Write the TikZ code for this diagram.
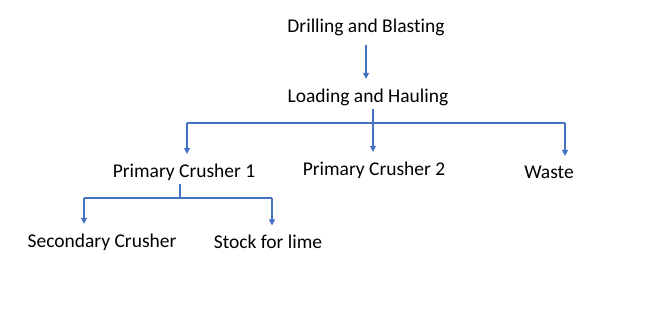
\documentclass[tikz,border=0pt]{standalone}
\usepackage{fontspec}
\setmainfont{Carlito}[Ligatures=NoCommon]
\usetikzlibrary{arrows.meta}
\definecolor{flowblue}{HTML}{4472C4}
\begin{document}
\begin{tikzpicture}[
        x=1pt, y=1pt,
        every node/.style={inner xsep=4pt, inner ysep=9.5pt, font=\fontsize{19.5}{23}\selectfont},
        link/.style={draw=flowblue, line width=1.1pt},
        arr/.style={link, -{Triangle[width=6pt,length=6pt]}},
    ]
    \useasboundingbox (0,0) rectangle (652,314);
    \node (drill) at (366,287) {Drilling and Blasting};
    \node (load)  at (368,217) {Loading and Hauling};
    \node (pc1)   at (184,142) {Primary Crusher 1};
    \node (pc2)   at (374,144) {Primary Crusher 2};
    \node (waste) at (549,142) {Waste};
    \node (sec)   at (102,72)  {Secondary Crusher};
    \node (stock) at (268,72)  {Stock for lime};
    % bus lines
    \coordinate (hubA) at (373,191);
    \coordinate (busL) at (187,191);
    \coordinate (busR) at (565,191);
    \coordinate (hubB) at (180,116);
    \coordinate (busC) at (84,116);
    \coordinate (busD) at (272,116);
    \draw[arr] (drill.south) -- (drill.south |- load.north);
    \draw[link] ([yshift=6pt]load.south -| hubA) -- (hubA);
    \draw[link] (busL) -- (busR);
    \draw[arr] (busL) -- (busL |- pc1.north);
    \draw[arr] (hubA) -- (hubA |- pc2.north);
    \draw[arr] (busR) -- (busR |- waste.north);
    \draw[link] ([yshift=6pt]pc1.south -| hubB) -- (hubB);
    \draw[link] (busC) -- (busD);
    \draw[arr] (busC) -- (busC |- sec.north);
    \draw[arr] (busD) -- (busD |- stock.north);
\end{tikzpicture}
\end{document}
